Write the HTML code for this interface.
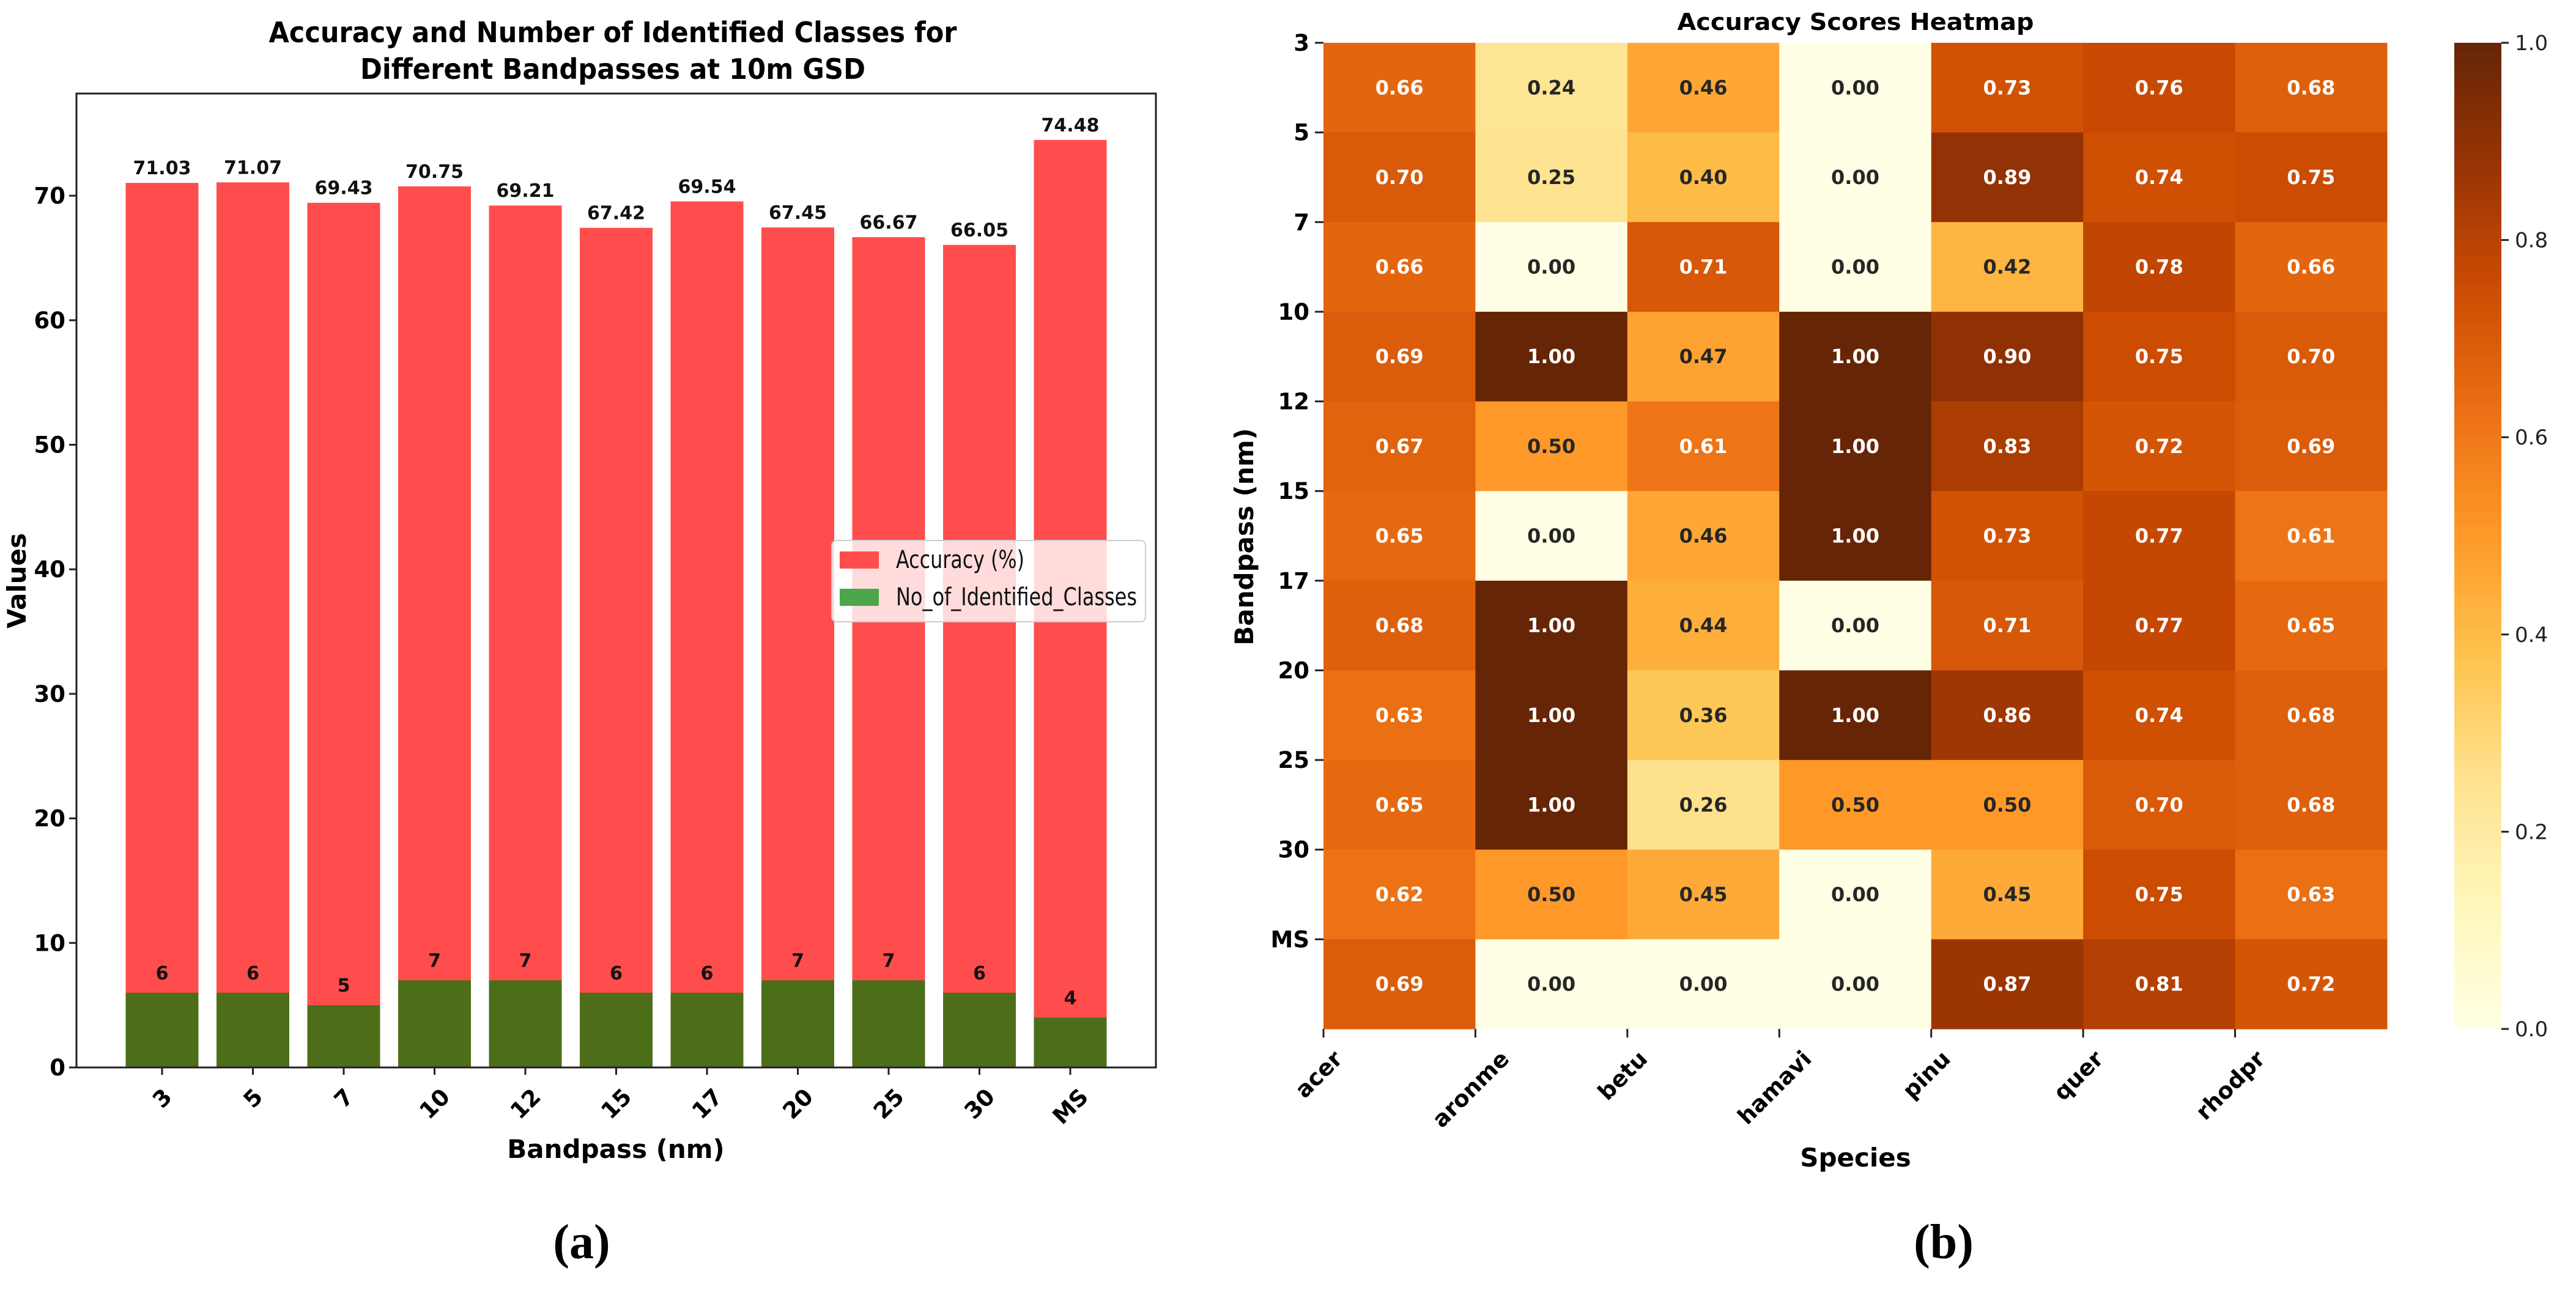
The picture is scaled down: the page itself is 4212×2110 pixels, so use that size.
<!DOCTYPE html>
<html><head><meta charset="utf-8"><style>
html,body{margin:0;padding:0;background:#fff;}
svg{display:block;}
text{font-family:"DejaVu Sans","Liberation Sans",sans-serif;}
</style></head><body>
<svg id="fig" width="4212" height="2110" viewBox="0 0 4212 2110" xmlns="http://www.w3.org/2000/svg">
<rect width="4212" height="2110" fill="#fff"/>
<g id="left"></g>
<g id="right"></g>
</svg>
<script>
const bandCats = ["3","5","7","10","12","15","17","20","25","30","MS"];
const accuracy = [71.03,71.07,69.43,70.75,69.21,67.42,69.54,67.45,66.67,66.05,74.48];
const classes = [6,6,5,7,7,6,6,7,7,6,4];
const yTicks = [0,10,20,30,40,50,60,70];

const species = ["acer","aronme","betu","hamavi","pinu","quer","rhodpr"];
const rowLabels = ["3","5","7","10","12","15","17","20","25","30","MS"];
const r3  = [0.66,0.24,0.46,0.00,0.73,0.76,0.68];
const r5  = [0.70,0.25,0.40,0.00,0.89,0.74,0.75];
const r7  = [0.66,0.00,0.71,0.00,0.42,0.78,0.66];
const r10 = [0.69,1.00,0.47,1.00,0.90,0.75,0.70];
const r12 = [0.67,0.50,0.61,1.00,0.83,0.72,0.69];
const r15 = [0.65,0.00,0.46,1.00,0.73,0.77,0.61];
const r17 = [0.68,1.00,0.44,0.00,0.71,0.77,0.65];
const r20 = [0.63,1.00,0.36,1.00,0.86,0.74,0.68];
const r25 = [0.65,1.00,0.26,0.50,0.50,0.70,0.68];
const r30 = [0.62,0.50,0.45,0.00,0.45,0.75,0.63];
const rMS = [0.69,0.00,0.00,0.00,0.87,0.81,0.72];
const heat = [r3,r5,r7,r10,r12,r15,r17,r20,r25,r30,rMS];
const cbTicks = [0,0.2,0.4,0.6,0.8,1.0];

const NS="http://www.w3.org/2000/svg";
function mk(tag, attrs, parent, txt){
  const e=document.createElementNS(NS,tag);
  for(const k in attrs) e.setAttribute(k,attrs[k]);
  if(txt!==undefined) e.textContent=txt;
  parent.appendChild(e); return e;
}
const L=document.getElementById('left'), R=document.getElementById('right');

// ---------- Left bar chart ----------
const ax={x0:125,x1:1890,y0:153,y1:1746};
const yMax=(ax.y1-ax.y0)/20.37;
const ys=v=>ax.y1-v/yMax*(ax.y1-ax.y0);
const c0=265, step=148.5, bw=119;
const xs=i=>c0+i*step;

let t;
t=mk('text',{x:1002,y:69,'text-anchor':'middle','font-size':46,'font-weight':'bold',textLength:1125,lengthAdjust:'spacingAndGlyphs'},L,'Accuracy and Number of Identified Classes for');


t=mk('text',{x:1002,y:129,'text-anchor':'middle','font-size':46,'font-weight':'bold',textLength:826,lengthAdjust:'spacingAndGlyphs'},L,'Different Bandpasses at 10m GSD');



accuracy.forEach((v,i)=>{
  const r=mk('rect',{x:xs(i)-bw/2,y:ys(v),width:bw,height:ax.y1-ys(v),fill:'#ff4d4d'},L);
  
  
  const tx=mk('text',{x:xs(i),y:ys(v)-14,'text-anchor':'middle','font-size':30,'font-weight':'bold',fill:'#111'},L,v.toFixed(2));
  
  
});
classes.forEach((v,i)=>{
  const r=mk('rect',{x:xs(i)-bw/2,y:ys(v),width:bw,height:ax.y1-ys(v),fill:'#4d6e19'},L);
  
  
  const tx=mk('text',{x:xs(i),y:ys(v)-22,'text-anchor':'middle','font-size':30,'font-weight':'bold',fill:'#111'},L,String(v));
  
  
});
let fr=mk('rect',{x:ax.x0,y:ax.y0,width:ax.x1-ax.x0,height:ax.y1-ax.y0,fill:'none',stroke:'#222','stroke-width':3},L);


yTicks.forEach(v=>{
  const y=ys(v);
  mk('line',{x1:ax.x0-12,x2:ax.x0,y1:y,y2:y,stroke:'#222','stroke-width':3},L);
  const tx=mk('text',{x:ax.x0-18,y:y+13,'text-anchor':'end','font-size':37,'font-weight':'bold'},L,String(v));
  
  
});
bandCats.forEach((c,i)=>{
  const x=xs(i);
  mk('line',{x1:x,x2:x,y1:ax.y1,y2:ax.y1+12,stroke:'#222','stroke-width':3},L);
  const tx=mk('text',{'text-anchor':'middle','font-size':37,'font-weight':'bold'},L,c);
  
  
  const len=tx.getComputedTextLength();
  const h=(len+37)*0.7071;
  const cy=1774+h/2;
  tx.setAttribute('x',x); tx.setAttribute('y',cy+13);
  tx.setAttribute('transform',`rotate(-45 ${x} ${cy})`);
});
t=mk('text',{x:1007,y:1894,'text-anchor':'middle','font-size':42,'font-weight':'bold'},L,'Bandpass (nm)');


t=mk('text',{x:42,y:950,'text-anchor':'middle','font-size':42,'font-weight':'bold',transform:'rotate(-90 42 950)'},L,'Values');


// legend
const lg=mk('g',{},L);


mk('rect',{x:1360,y:884,width:513,height:133,rx:8,fill:'#fff','fill-opacity':0.8,stroke:'#ccc','stroke-width':2},lg);
mk('rect',{x:1373,y:902,width:64,height:28,fill:'#ff4d4d'},lg);
mk('rect',{x:1373,y:963,width:64,height:28,fill:'#4da64d'},lg);
t=mk('text',{x:1465,y:929,'font-size':40,textLength:210,lengthAdjust:'spacingAndGlyphs',fill:'#111'},lg,'Accuracy (%)');


t=mk('text',{x:1465,y:990,'font-size':40,textLength:394,lengthAdjust:'spacingAndGlyphs',fill:'#111'},lg,'No_of_Identified_Classes');


t=mk('text',{x:951,y:2058,'text-anchor':'middle','font-size':80,'font-weight':'bold',style:'font-family:"Liberation Serif",serif'},L,'(a)');



// ---------- Right heatmap ----------
const stops=[[0,'#ffffe5'],[0.125,'#fff7bc'],[0.25,'#fee391'],[0.375,'#fec44f'],[0.5,'#fe9929'],[0.625,'#ec7014'],[0.75,'#cc4c02'],[0.875,'#993404'],[1,'#662506']];
function hx(h){return [1,3,5].map(i=>parseInt(h.substr(i,2),16));}
function cmap(v){
  for(let i=1;i<stops.length;i++){
    if(v<=stops[i][0]){
      const a=hx(stops[i-1][1]),b=hx(stops[i][1]);
      const f=(v-stops[i-1][0])/(stops[i][0]-stops[i-1][0]);
      return 'rgb('+a.map((c,k)=>Math.round(c+(b[k]-c)*f)).join(',')+')';
    }
  }
  return stops[stops.length-1][1];
}
const hm={x0:2164,x1:3903,y0:70,y1:1683};
const cw=(hm.x1-hm.x0)/species.length, ch=(hm.y1-hm.y0)/rowLabels.length;
const hxs=j=>hm.x0+j*cw, hys=i=>hm.y0+i*ch;
heat.forEach((row,i)=>row.forEach((v,j)=>{
  const r=mk('rect',{x:hxs(j),y:hys(i),width:cw+0.5,height:ch+0.5,fill:cmap(v)},R);
  
  
  const tx=mk('text',{x:hxs(j)+cw/2,y:hys(i)+ch/2+11,'text-anchor':'middle','font-size':32,'font-weight':'bold',fill:v>0.55?'#fff':'#262626'},R,v.toFixed(2));
  
  
}));
t=mk('text',{x:3034,y:49,'text-anchor':'middle','font-size':38,'font-weight':'bold',textLength:583,lengthAdjust:'spacingAndGlyphs'},R,'Accuracy Scores Heatmap');


rowLabels.forEach((c,i)=>{
  const y=hys(i);
  mk('line',{x1:hm.x0-14,x2:hm.x0,y1:y,y2:y,stroke:'#222','stroke-width':3},R);
  const tx=mk('text',{x:2141,y:y+13,'text-anchor':'end','font-size':37,'font-weight':'bold'},R,c);
  
  
});
species.forEach((c,j)=>{
  const x=hxs(j);
  mk('line',{x1:x,x2:x,y1:hm.y1,y2:hm.y1+14,stroke:'#222','stroke-width':3},R);
  const tx=mk('text',{'text-anchor':'middle','font-size':37,'font-weight':'bold'},R,c);
  
  
  const len=tx.getComputedTextLength();
  const h=(len+37)*0.7071;
  const cy=1712+h/2;
  tx.setAttribute('x',x-8); tx.setAttribute('y',cy+13);
  tx.setAttribute('transform',`rotate(-45 ${x-8} ${cy})`);
});
t=mk('text',{x:3034,y:1908,'text-anchor':'middle','font-size':42,'font-weight':'bold'},R,'Species');


t=mk('text',{x:2049,y:878,'text-anchor':'middle','font-size':42,'font-weight':'bold',transform:'rotate(-90 2049 878)'},R,'Bandpass (nm)');


// colorbar
const cb={x0:4013,x1:4090,y0:70,y1:1683};
const cbs=v=>cb.y1-v*(cb.y1-cb.y0);
const N=200;
for(let k=0;k<N;k++){
  const v0=k/N;
  const r=mk('rect',{x:cb.x0,y:cbs(v0+1/N),width:cb.x1-cb.x0,height:(cb.y1-cb.y0)/N+0.6,fill:cmap(v0+0.5/N)},R);
  
  
}
cbTicks.forEach(v=>{
  const y=cbs(v);
  mk('line',{x1:cb.x1,x2:cb.x1+12,y1:y,y2:y,stroke:'#222','stroke-width':3},R);
  const tx=mk('text',{x:4112,y:y+12,'font-size':34,fill:'#222'},R,v.toFixed(1));
  
  
});
t=mk('text',{x:3178,y:2058,'text-anchor':'middle','font-size':80,'font-weight':'bold',style:'font-family:"Liberation Serif",serif'},R,'(b)');


</script>
</body></html>
